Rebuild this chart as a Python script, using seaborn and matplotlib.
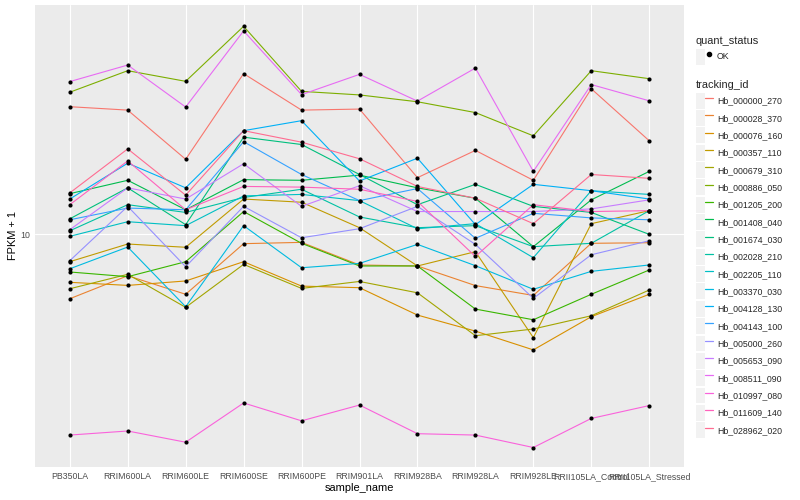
import matplotlib
matplotlib.use("Agg")
import matplotlib.pyplot as plt
import seaborn as sns
import pandas as pd
from matplotlib.lines import Line2D
from matplotlib.patches import Patch
from matplotlib.legend_handler import HandlerTuple
from matplotlib.ticker import FixedLocator, NullLocator, FixedFormatter

# ---------------- data ----------------
samples = ["PB350LA", "RRIM600LA", "RRIM600LE", "RRIM600SE", "RRIM600PE",
           "RRIM901LA", "RRIM928BA", "RRIM928LA", "RRIM928LE",
           "RRII105LA_Control", "RRII105LA_Stressed"]

tracking_ids = ["Hb_000000_270", "Hb_000028_370", "Hb_000076_160", "Hb_000357_110",
                "Hb_000679_310", "Hb_000886_050", "Hb_001205_200", "Hb_001408_040",
                "Hb_001674_030", "Hb_002028_210", "Hb_002205_110", "Hb_003370_030",
                "Hb_004128_130", "Hb_004143_100", "Hb_005000_260", "Hb_005653_090",
                "Hb_008511_090", "Hb_010997_080", "Hb_011609_140", "Hb_028962_020"]

# FPKM + 1 per sample (order of `samples`)
hb_000000_270 = [32.3, 31.3, 19.9, 43.8, 31.3, 31.6, 16.8, 21.6, 16.4, 38.1, 23.6]
hb_000028_370 = [5.51, 6.81, 5.74, 9.15, 9.26, 7.52, 7.45, 6.22, 5.68, 9.18, 9.23]
hb_000076_160 = [6.41, 6.23, 6.49, 7.75, 6.19, 6.10, 4.74, 4.09, 3.44, 4.67, 5.74]
hb_000357_110 = [7.75, 9.12, 8.85, 13.8, 13.4, 10.6, 7.45, 8.50, 3.85, 11.0, 12.4]
hb_000679_310 = [6.04, 6.90, 5.09, 7.56, 6.06, 6.46, 5.82, 3.92, 4.17, 4.71, 5.97]
hb_000886_050 = [36.9, 45.0, 40.8, 67.7, 37.2, 36.0, 33.8, 30.6, 24.7, 45.0, 41.8]
hb_001205_200 = [7.05, 6.75, 7.75, 12.3, 9.18, 7.45, 7.45, 5.01, 4.54, 5.74, 7.18]
hb_001408_040 = [14.5, 16.4, 12.5, 16.5, 16.4, 17.2, 15.3, 13.9, 8.90, 13.7, 17.8]
hb_001674_030 = [11.5, 15.3, 10.9, 24.4, 22.8, 17.3, 13.1, 15.8, 12.9, 12.2, 9.97]
hb_002028_210 = [10.3, 13.1, 12.2, 14.0, 15.1, 11.7, 10.6, 10.8, 8.90, 9.18, 12.4]
hb_002205_110 = [9.79, 11.2, 10.8, 14.2, 14.4, 13.6, 10.5, 11.0, 8.04, 14.9, 14.4]
hb_003370_030 = [7.26, 8.87, 5.12, 10.8, 7.33, 7.63, 9.09, 7.47, 6.01, 7.09, 7.52]
hb_004128_130 = [13.8, 19.2, 15.3, 25.9, 28.4, 16.3, 20.1, 10.9, 15.8, 14.9, 13.8]
hb_004143_100 = [11.4, 12.7, 12.5, 23.4, 17.3, 13.6, 15.2, 9.61, 12.1, 11.6, 11.4]
hb_005000_260 = [7.82, 12.9, 7.40, 12.9, 9.66, 10.5, 12.9, 9.09, 5.53, 8.26, 9.40]
hb_005653_090 = [10.4, 15.3, 13.8, 19.1, 12.9, 15.6, 12.3, 12.3, 12.3, 12.6, 13.7]
hb_008511_090 = [40.7, 47.4, 32.2, 64.9, 36.1, 43.5, 34.0, 46.1, 17.8, 39.6, 34.1]
hb_010997_080 = [1.57, 1.63, 1.47, 2.11, 1.79, 2.07, 1.59, 1.57, 1.40, 1.83, 2.06]
hb_011609_140 = [13.1, 19.6, 12.5, 15.5, 15.4, 15.1, 13.5, 8.13, 13.1, 12.3, 12.4]
hb_028962_020 = [14.6, 21.9, 14.3, 25.9, 23.3, 20.0, 15.5, 13.9, 11.0, 17.3, 16.7]

series_values = [hb_000000_270, hb_000028_370, hb_000076_160, hb_000357_110,
                 hb_000679_310, hb_000886_050, hb_001205_200, hb_001408_040,
                 hb_001674_030, hb_002028_210, hb_002205_110, hb_003370_030,
                 hb_004128_130, hb_004143_100, hb_005000_260, hb_005653_090,
                 hb_008511_090, hb_010997_080, hb_011609_140, hb_028962_020]

quant_status = "OK"

# ggplot2 default hue palette for 20 levels
palette = ["#F8766D", "#EA8331", "#D89000", "#C09B00", "#A3A500", "#7CAE00",
           "#39B600", "#00BB4E", "#00BF7D", "#00C1A3", "#00BFC4", "#00BAE0",
           "#00B0F6", "#35A2FF", "#9590FF", "#C77CFF", "#E76BF3", "#FA62DB",
           "#FF62BC", "#FF6C91"]

rows = []
for tid, vals in zip(tracking_ids, series_values):
    for s, v in zip(samples, vals):
        rows.append({"tracking_id": tid, "sample_name": s, "fpkm": v,
                     "quant_status": quant_status})
df = pd.DataFrame(rows)

# ---------------- style ----------------
sns.set_style("white")
plt.rcParams["font.family"] = ["Liberation Sans", "DejaVu Sans"]

fig = plt.figure(figsize=(8, 5), dpi=100)
ax = fig.add_axes([35 / 800, 33 / 500, (684 - 35) / 800, (467 - 5) / 500])
ax.set_facecolor("#EBEBEB")

sns.lineplot(data=df, x="sample_name", y="fpkm", hue="tracking_id",
             hue_order=tracking_ids, palette=palette, sort=False,
             estimator=None, legend=False, linewidth=0.8, ax=ax, zorder=2)
sns.scatterplot(data=df, x="sample_name", y="fpkm", color="black", s=9,
                marker="o", linewidth=0, legend=False, ax=ax, zorder=3)

ax.set_yscale("log")
ax.set_ylim(1.17, 82.4)
ax.set_xlim(-0.6, len(samples) - 1 + 0.6)
ax.yaxis.set_major_locator(FixedLocator([1, 10, 100]))
ax.yaxis.set_major_formatter(FixedFormatter(["1", "10", "100"]))
ax.yaxis.set_minor_locator(NullLocator())
ax.set_xticks(range(len(samples)))
ax.set_xticklabels(samples)

ax.grid(True, which="major", color="white", linewidth=0.8)
ax.set_axisbelow(True)
for sp in ax.spines.values():
    sp.set_visible(False)
ax.tick_params(axis="both", which="major", length=2, width=0.6,
               color="#333333", labelsize=6.3, labelcolor="#4D4D4D", pad=1.5)

ax.set_xlabel("sample_name", fontsize=7.9, color="black", labelpad=1.5)
ax.set_ylabel("FPKM + 1", fontsize=7.9, color="black", labelpad=1.5)

# ---------------- legends ----------------
key_bg = "#F2F2F2"
leg_kw = dict(loc="upper left", frameon=False, fontsize=6.3, title_fontsize=7.9,
              handler_map={tuple: HandlerTuple(ndivide=None)},
              handlelength=1.95, handleheight=2.41, handletextpad=0.45,
              labelspacing=0.17, borderpad=0, borderaxespad=0,
              alignment="left")

qs_handles = [(Patch(facecolor=key_bg, edgecolor="none"),
               Line2D([], [], linestyle="none", marker="o", color="black",
                      markersize=3))]
leg1 = fig.legend(qs_handles, [quant_status], title="quant_status",
                  bbox_to_anchor=(696 / 800, 1 - 36 / 500), **leg_kw)
leg1._legend_box.sep = 2.0

tid_handles = [(Patch(facecolor=key_bg, edgecolor="none"),
                Line2D([], [], color=c, linewidth=0.9)) for c in palette]
leg2 = fig.legend(tid_handles, tracking_ids, title="tracking_id",
                  bbox_to_anchor=(696 / 800, 1 - 80 / 500), **leg_kw)
leg2._legend_box.sep = 2.0

fig.savefig("out.png", dpi=100, facecolor="white")
